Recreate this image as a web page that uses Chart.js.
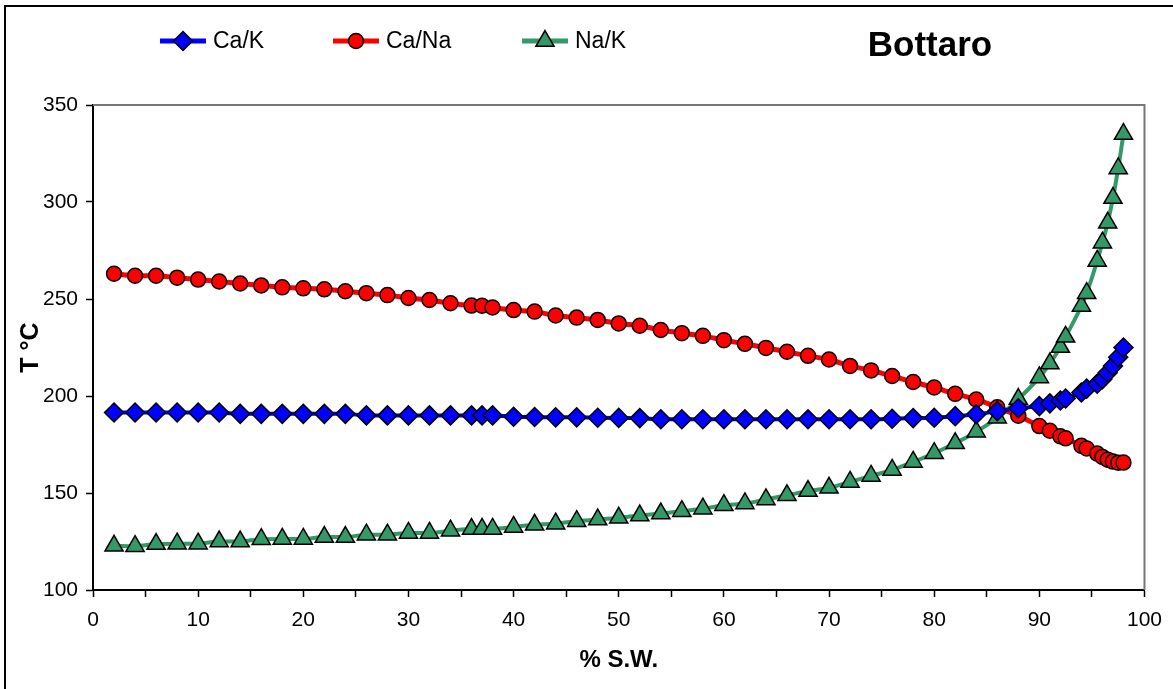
<!DOCTYPE html>
<html>
<head>
<meta charset="utf-8">
<title>Bottaro</title>
<script src="https://cdn.jsdelivr.net/npm/chart.js@4"></script>
<style>
  html, body { margin: 0; padding: 0; background: #fff; }
  #wrap { position: relative; width: 1173px; height: 689px; }
</style>
</head>
<body>
<div id="wrap"><canvas id="bottaroChart" width="1173" height="689"></canvas></div>
<script>
// ===============================
// Dados
// ===============================
const xValues = [2, 4, 6, 8, 10, 12, 14, 16, 18, 20, 22, 24, 26, 28, 30, 32, 34, 36, 37, 38,
  40, 42, 44, 46, 48, 50, 52, 54, 56, 58, 60, 62, 64, 66, 68, 70, 72, 74, 76, 78, 80, 82, 84, 86, 88, 90,
  91, 92, 92.5, 94, 94.5, 95.5, 96, 96.5, 97, 97.5, 98];

const caK = [191.5, 191.5, 191.5, 191.5, 191.5, 191.5,
  190.8, 190.8, 190.8, 190.8, 190.8, 190.8,
  190, 190, 190, 190, 190, 190, 190, 190,
  189.3, 189.2, 189, 189, 188.8, 188.7, 188.6,
  188, 188, 188, 188, 188, 188, 188, 188, 188, 188, 188,
  188.3, 188.6, 188.8, 189.6, 190.6, 192.2, 193.7, 194.8,
  196.2, 197.7, 198.7, 201.8, 203.8, 206.3, 208.7, 212, 215.5, 220, 225];

const caNa = [263, 262, 262, 261, 260, 259, 258, 257, 256, 255.5, 255, 254, 253, 252, 250.5, 249.5, 247.8, 246.6, 246.5, 245.6,
  244.3, 243.5, 241.5, 240.4, 239.2, 237.4, 236.2, 234, 232.4, 231, 228.8, 226.9, 224.8, 222.8, 220.7, 218.8,
  215.5, 213.2, 210.3, 207.2, 204.4, 201.1, 198.2, 194.2, 189.8, 184.5,
  182.1, 179.2, 178.2, 174.3, 173, 170.3, 168.6, 167.2, 166.2, 165.6, 165.7];

const naK = [122.8, 122.6, 123.7, 123.9, 123.9, 125, 125, 126.2, 126.3, 126.3, 127.3, 127.3, 128.5, 128.5, 129.4, 129.4, 130.6, 131.4, 131.5, 131.5,
  132.5, 133.6, 134.2, 135.5, 136.3, 137.2, 138.4, 139.4, 140.6, 141.9, 143.7, 144.6, 146.7, 148.8, 151, 152.7,
  155.7, 158.8, 161.9, 166, 170.5, 175.6, 181.6, 188.8, 198.4, 209.6,
  216.7, 225.2, 230.5, 246.4, 253, 269.6, 279, 289.3, 302, 317.3, 335];

const seriesNames = ["Ca/K", "Ca/Na", "Na/K"];
const chartTitle = "Bottaro";
const xTitle = "% S.W.";
const yTitle = "T °C";

document.addEventListener("DOMContentLoaded", function () {
  const FONT = "'Liberation Sans', Arial, sans-serif";

  function toPoints(ys) {
    return xValues.map((x, i) => ({ x: x, y: ys[i] }));
  }

  // ===============================
  // Moldura externa + borda da área do gráfico
  // ===============================
  const framePlugin = {
    id: "frame",
    beforeDraw(chart) {
      const ctx = chart.ctx;
      ctx.save();
      ctx.fillStyle = "#fff";
      ctx.fillRect(0, 0, chart.width, chart.height);
      ctx.strokeStyle = "#000";
      ctx.lineWidth = 2;
      ctx.strokeRect(5, 6, chart.width + 10, chart.height + 10);
      ctx.restore();
    },
    afterDraw(chart) {
      const { ctx, chartArea: a } = chart;
      ctx.save();
      ctx.strokeStyle = "#777";
      ctx.lineWidth = 2;
      ctx.beginPath();
      ctx.moveTo(a.left, a.top);
      ctx.lineTo(a.right, a.top);
      ctx.lineTo(a.right, a.bottom);
      ctx.stroke();
      ctx.restore();
    }
  };

  // marcador do jeito do Excel (losango, círculo, triângulo)
  function drawMarker(ctx, style, x, y, r) {
    if (style === "rectRot") {
      ctx.moveTo(x - r, y);
      ctx.lineTo(x, y - r);
      ctx.lineTo(x + r, y);
      ctx.lineTo(x, y + r);
      ctx.closePath();
    } else if (style === "circle") {
      ctx.arc(x, y, r, 0, Math.PI * 2);
    } else {
      const h = r * Math.sqrt(3) / 2;
      ctx.moveTo(x, y - r);
      ctx.lineTo(x + h, y + r / 2);
      ctx.lineTo(x - h, y + r / 2);
      ctx.closePath();
    }
  }

  // ===============================
  // Legenda e título desenhados à mão
  // ===============================
  const legendPlugin = {
    id: "customLegend",
    afterDraw(chart) {
      const ctx = chart.ctx;
      const spots = [160, 333, 522];
      const y = 41;
      ctx.save();
      chart.data.datasets.forEach((ds, i) => {
        const x0 = spots[i];
        ctx.strokeStyle = ds.borderColor;
        ctx.lineWidth = 5;
        ctx.beginPath();
        ctx.moveTo(x0, y);
        ctx.lineTo(x0 + 46, y);
        ctx.stroke();
        ctx.fillStyle = ds.pointBackgroundColor;
        ctx.strokeStyle = "#000";
        ctx.lineWidth = 1.5;
        ctx.beginPath();
        drawMarker(ctx, ds.pointStyle, x0 + 23, y, ds.pointRadius);
        ctx.fill();
        ctx.stroke();
        ctx.fillStyle = "#000";
        ctx.font = "23px " + FONT;
        ctx.textBaseline = "middle";
        ctx.textAlign = "left";
        ctx.fillText(ds.label, x0 + 53, y + 1);
      });
      ctx.font = "bold 35px " + FONT;
      ctx.textAlign = "center";
      ctx.textBaseline = "middle";
      ctx.fillText(chartTitle, 930, 46);
      ctx.restore();
    }
  };

  const ctxChart = document.getElementById("bottaroChart");
  new Chart(ctxChart, {
    type: "line",
    data: {
      datasets: [
        {
          label: seriesNames[0],
          data: toPoints(caK),
          borderColor: "#0000ff",
          borderWidth: 4,
          pointStyle: "rectRot",
          pointRadius: 9.5,
          pointBackgroundColor: "#0000ff",
          pointBorderColor: "#000",
          pointBorderWidth: 1.5,
          cubicInterpolationMode: "monotone"
        },
        {
          label: seriesNames[1],
          data: toPoints(caNa),
          borderColor: "#ff0000",
          borderWidth: 5,
          pointStyle: "circle",
          pointRadius: 7.5,
          pointBackgroundColor: "#ff0000",
          pointBorderColor: "#000",
          pointBorderWidth: 1.5,
          cubicInterpolationMode: "monotone"
        },
        {
          label: seriesNames[2],
          data: toPoints(naK),
          borderColor: "#339966",
          borderWidth: 4,
          pointStyle: "triangle",
          pointRadius: 10.5,
          pointBackgroundColor: "#339966",
          pointBorderColor: "#000",
          pointBorderWidth: 1.5,
          cubicInterpolationMode: "monotone"
        }
      ]
    },
    options: {
      responsive: false,
      animation: false,
      layout: { padding: { left: 0, top: 105, right: 20, bottom: 0 } },
      plugins: {
        legend: { display: false },
        title: { display: false },
        tooltip: { enabled: false }
      },
      scales: {
        x: {
          type: "linear",
          min: 0,
          max: 100,
          afterFit: (s) => { s.height = 99; },
          border: { color: "#000", width: 2 },
          grid: { drawOnChartArea: false, drawTicks: true, tickLength: 7, tickColor: "#000", tickWidth: 1.5 },
          ticks: {
            stepSize: 5,
            padding: 11,
            color: "#000",
            font: { family: FONT, size: 21 },
            callback: (v) => (v % 10 === 0 ? v : "")
          },
          title: {
            display: true,
            text: xTitle,
            color: "#000",
            font: { family: FONT, size: 24, weight: "bold" },
            padding: { top: 0, bottom: 14 }
          }
        },
        y: {
          min: 100,
          max: 350,
          afterFit: (s) => { s.width = 93; },
          border: { color: "#000", width: 2 },
          grid: { drawOnChartArea: false, drawTicks: true, tickLength: 7, tickColor: "#000", tickWidth: 1.5 },
          ticks: {
            stepSize: 50,
            padding: 8,
            color: "#000",
            font: { family: FONT, size: 21 }
          },
          title: {
            display: true,
            text: yTitle,
            color: "#000",
            font: { family: FONT, size: 25, weight: "bold" },
            padding: { top: 16, bottom: 0 }
          }
        }
      }
    },
    plugins: [framePlugin, legendPlugin]
  });
});
</script>
</body>
</html>
